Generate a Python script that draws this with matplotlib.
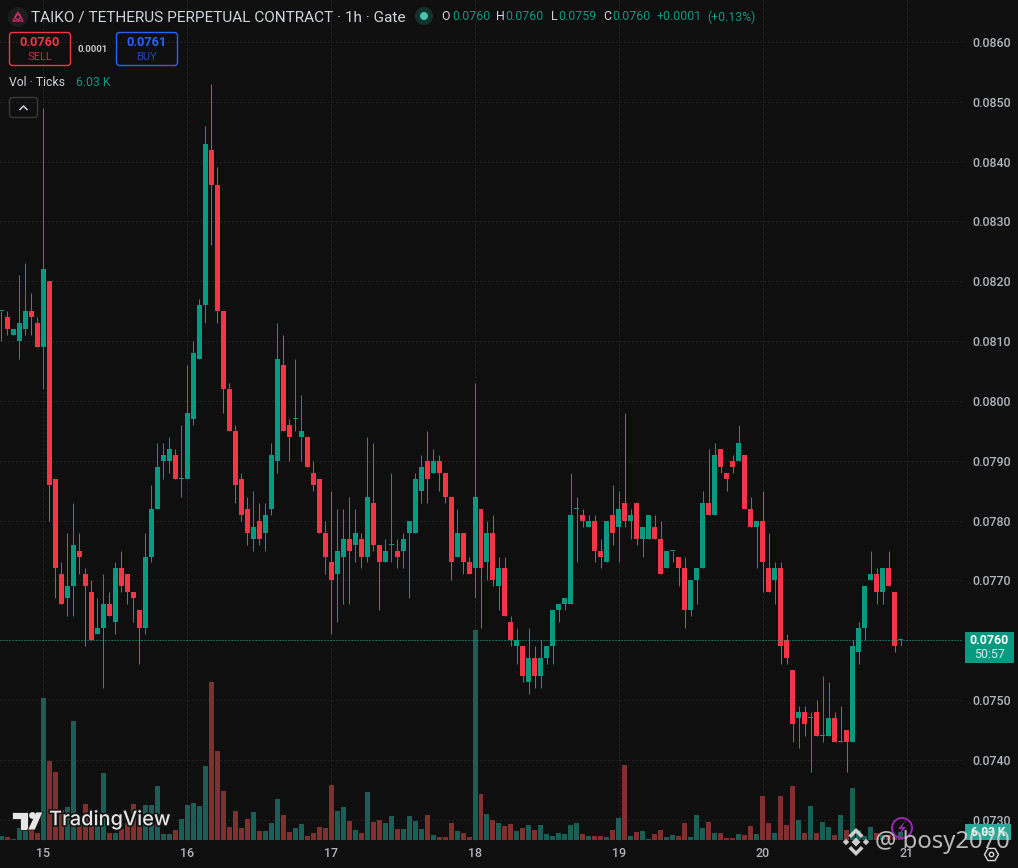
import numpy as np
import matplotlib
matplotlib.use("Agg")
import matplotlib.pyplot as plt
from matplotlib.patches import Polygon, Circle, FancyBboxPatch, Rectangle
import matplotlib.patheffects as pe

plt.rcParams['font.family'] = ['Roboto', 'DejaVu Sans']

# prices in units of 0.0001, hourly, first candle is 7 hours before day 15
first_hour = -7
opens = [815,814,811,810,812,815,813,
809,820,787,771,767,769,775,771,768,761,
762,766,763,772,771,768,765,762,774,782,
790,790,791,787,787,797,807,816,842,836,
815,802,795,787,782,777,780,778,782,790,
806,796,797,794,794,788,787,778,773,771,
774,777,776,777,774,783,776,773,776,775,
775,778,778,785,790,788,790,788,784,774,
778,773,772,782,773,778,769,772,763,759,
759,753,757,754,757,759,765,766,766,782,
781,779,780,775,773,781,779,783,780,783,
777,777,779,777,772,775,774,772,765,770,
772,783,781,792,788,790,790,791,782,779,
780,772,770,772,760,755,747,748,747,748,
744,744,747,743,745,743,758,762,770,771,
768,772,768,760]
highs = [815,815,812,821,823,818,814,
849,820,787,773,778,783,778,772,770,767,
771,768,773,775,771,768,765,778,786,793,
793,794,792,796,806,810,817,846,853,839,
815,803,796,788,784,785,783,783,793,813,
811,797,807,801,794,790,787,780,785,782,
782,784,782,778,794,793,776,777,788,777,
778,780,788,791,795,792,791,788,784,782,
778,774,803,782,780,781,774,774,764,762,
759,762,759,760,759,765,766,767,788,784,
782,781,781,777,780,786,785,798,782,783,
779,781,781,780,775,775,774,774,770,772,
785,792,793,792,788,791,796,791,784,780,
785,778,773,773,761,755,749,749,748,750,
754,753,748,749,745,760,763,769,775,772,
772,775,768,760]
lows = [810,811,811,807,811,811,809,
802,780,767,766,764,764,771,759,760,761,
752,764,761,768,766,763,756,761,773,782,
787,788,787,784,787,796,807,813,826,813,
798,795,783,780,776,775,776,775,781,788,
795,790,795,790,789,785,778,771,761,763,
766,766,773,772,773,775,765,773,773,772,
772,767,778,783,783,788,785,783,770,774,
771,771,767,762,770,769,765,764,759,756,
753,751,752,752,756,756,763,765,766,773,
779,779,773,772,773,776,773,779,777,776,
774,777,777,771,772,773,769,762,764,766,
772,781,781,788,785,788,790,782,779,772,
768,768,766,756,756,743,742,744,738,744,
743,744,743,743,738,743,756,760,770,766,
766,769,758,759]
closes = [815,812,812,813,815,814,809,
822,786,772,766,769,776,774,769,760,762,
766,764,772,769,768,767,762,774,782,789,
791,792,787,787,798,808,816,843,836,815,
802,795,786,781,778,779,777,781,791,807,
795,794,797,795,789,786,778,774,770,775,
777,775,778,774,784,776,773,775,776,774,
777,780,787,789,787,790,788,784,773,778,
773,771,784,772,778,770,772,764,760,760,
754,757,754,757,759,765,766,767,781,782,
780,780,775,774,780,778,782,780,781,777,
779,781,777,771,775,775,772,765,770,772,
783,781,791,789,787,789,793,782,779,780,
773,768,772,759,757,746,748,746,747,744,
744,747,743,743,743,759,762,769,771,768,
772,769,759,760]
# volume in thousands of ticks
volumes = [3,2.25,.75,9,6.75,9,5.25,
106.5,59.25,51,22.5,24.75,89.25,17.5,27,20,17.5,
50.25,5.25,5.25,8.25,12.5,27,15,26.25,26.25,40.5,
4.5,4.5,7.5,15.75,26.25,27.75,25.5,55.5,118.5,66.75,
36.75,9.75,21.75,9,15.75,21,6.75,6.75,12.75,30.75,
18.75,6,9,12,3,5.25,9.75,9,41.25,21.75,
24.75,14.25,7.5,5.25,36,13.5,15,12.75,18,8.25,
8.25,18,14.25,8.25,18.75,3.75,2.25,2.25,12.75,6.75,
5.25,2.25,157.5,34.5,19.5,15,12.75,10.5,12,6.75,
9,11.25,7.5,11.25,4.5,3,5.25,4.5,11.25,12.75,
4.5,3,3,3,2.25,7.5,16.5,56.25,3,6,
6.75,.75,4.5,7.5,2.25,3.75,3,12.75,2.25,18.75,
9,13.5,5.25,5.25,1.5,1.5,4.5,3.75,10.5,4.5,
33,12.75,5.25,33,11.25,40.5,15,5.25,25.5,5.25,
13.5,9.75,3.75,18.75,7.5,39,7.5,3,9.75,5.25,
3.75,3.75,2.25,6.03]
last_price = 0.0760
day_labels = ['15', '16', '17', '18', '19', '20', '21']
day_hours = [0, 24, 48, 72, 96, 120, 144]
price_ticks = [0.0730 + 0.001 * i for i in range(14)]

BG = '#0f0f0f'
GREEN = '#089981'
RED = '#f23645'
VGREEN = '#1b5e55'
VRED = '#80302f'
GRID = '#333333'
TXT = '#b2b5be'

W, H = 1018, 868
PANE_R, PANE_B = 962, 841
fig = plt.figure(figsize=(W / 100, H / 100), dpi=100, facecolor=BG)
rect = [0, (H - PANE_B) / H, PANE_R / W, PANE_B / H]

O = np.array(opens) / 1e4
C = np.array(closes) / 1e4
Hi = np.array(highs) / 1e4
Lo = np.array(lows) / 1e4
V = np.array(volumes)
t = np.arange(len(O)) + first_hour
up = C >= O

xlim = (-7.17, 153.17)
ylim = (0.076 - 200.7 / 59850, 0.076 + 640.3 / 59850)

ax = fig.add_axes(rect, facecolor=BG, zorder=1)
ax.set_xlim(xlim)
ax.set_ylim(ylim)
for s in ax.spines.values():
    s.set_visible(False)
ax.yaxis.tick_right()
ax.set_yticks(price_ticks)
# the 0.0760 scale label sits under the last-price tag, so the tag carries it
ax.set_yticklabels(['' if abs(p - last_price) < 1e-6 else f'{p:.4f}' for p in price_ticks])
ax.set_xticks(day_hours)
ax.set_xticklabels(day_labels)
ax.tick_params(axis='y', length=0, pad=7.4, labelsize=8.9, labelcolor=TXT)
ax.tick_params(axis='x', length=0, pad=4.6, labelsize=8.9, labelcolor=TXT)
for lab in ax.get_yticklabels() + ax.get_xticklabels():
    lab.set_fontweight('medium')
ax.grid(True, color=GRID, lw=0.72, linestyle=(0, (1, 3)))
ax.set_axisbelow(True)

# candles
wicks_col = [GREEN if u else RED for u in up]
wc = ax.vlines(t, Lo, Hi, colors=wicks_col, lw=0.72, zorder=3)
wc.set_snap(True)
body_h = np.maximum(np.abs(C - O), 1 / 59850)
ax.bar(t, body_h, bottom=np.minimum(O, C), width=5 / 6,
       color=wicks_col, linewidth=0, zorder=4)

# volume pane overlay sharing the time axis
vol = fig.add_axes(rect, zorder=2)
vol.patch.set_alpha(0)
vol.set_xlim(xlim)
vol.set_ylim(-0.75, 840 * 0.75)
vol.axis('off')
vol.bar(t, V, width=5 / 6, color=[VGREEN if u else VRED for u in up], linewidth=0)
vol.plot([0, 1], [last_price, last_price], transform=ax.get_yaxis_transform(),
         color='#0fae94', lw=0.72, linestyle=(0, (1, 2)), scalex=False, scaley=False)

# chrome in pixel coordinates
ov = fig.add_axes([0, 0, 1, 1], zorder=5)
ov.patch.set_alpha(0)
ov.set_xlim(0, W)
ov.set_ylim(H, 0)
ov.axis('off')


def T(x, y, s, color=TXT, size=8.8, weight='normal', ha='left', va='center', **kw):
    return ov.text(x, y, s, color=color, fontsize=size, fontweight=weight, ha=ha, va=va, **kw)


def box(x0, y0, x1, y1, ec, fc='none', r=3, lw=1.0):
    ov.add_patch(FancyBboxPatch((x0 + r, y0 + r), x1 - x0 - 2 * r, y1 - y0 - 2 * r,
                                boxstyle=f'round,pad={r},rounding_size={r}',
                                ec=ec, fc=fc, lw=lw, mutation_aspect=1))


# header
ov.add_patch(Circle((18, 17), 10, fc='#1c1c1f', ec='none'))
ov.add_patch(Polygon([(18, 12), (23, 21), (13, 21)], closed=True, fc='none', ec='#c2275f', lw=1.1))
ov.add_patch(Circle((18, 17), 2.4, fc='none', ec='#e0356f', lw=0.8))
T(31, 17, 'TAIKO / TETHERUS PERPETUAL CONTRACT · 1h · Gate', color='#d1d4dc', size=11.1)
ov.add_patch(Circle((424, 16), 9, fc='#12332e', ec='none'))
ov.add_patch(Circle((424, 16), 4, fc='#45c2a8', ec='none'))
for x, s in [(441, 'O'), (496, 'H'), (551, 'L'), (603, 'C')]:
    T(x, 17, s, color='#d1d4dc', size=8.9)
for x, s in [(452, '0.0760'), (505.5, '0.0760'), (558, '0.0759'), (612, '0.0760'),
             (657, '+0.0001'), (707, '(+0.13%)')]:
    T(x, 17, s, color=GREEN, size=8.9)

# buy / sell
box(9.5, 32.5, 70.5, 65.5, RED)
T(40, 42, '0.0760', color=RED, size=9.2, weight='bold', ha='center')
T(40, 56.5, 'SELL', color='#c9303f', size=8.0, ha='center')
box(116.5, 32.5, 177.5, 65.5, '#2962ff')
T(147, 42, '0.0761', color='#2962ff', size=9.2, weight='bold', ha='center')
T(147, 56.5, 'BUY', color='#2148c0', size=8.0, ha='center')
T(93, 49, '0.0001', color='#c8c8c8', size=6.8, weight='bold', ha='center')

# volume legend and collapse button
T(9, 82.5, 'Vol · Ticks', color='#d1d4dc', size=8.8)
T(76, 82.5, '6.03 K', color=GREEN, size=8.8)
box(9.5, 97.5, 37.5, 117.5, '#3a3a3a')
ov.plot([20, 23.5, 27], [109.5, 106, 109.5], color='#d1d4dc', lw=1.1)

# last-value tags
ov.add_patch(Rectangle((965, 632), 49, 31, fc=GREEN, ec='none'))
T(989.5, 640.5, '0.0760', color='white', size=8.9, weight='bold', ha='center')
T(989.5, 654.5, '50:57', color='#d5eee9', size=8.9, ha='center')
ov.add_patch(Rectangle((965, 824), 46, 16, fc='#2aa796', ec='none'))
T(988, 832.5, '6.03 K', color='white', size=8.6, weight='bold', ha='center')

# TradingView logo
halo = [pe.withStroke(linewidth=2.5, foreground='#161616')]
logo_col = '#e6e6e6'
for poly in ([(12, 812), (28, 812), (28, 830), (20, 830), (20, 819), (12, 819)],
             [(36, 812), (43, 812), (35, 830), (27.5, 830)]):
    ov.add_patch(Polygon(poly, closed=True, fc=logo_col, ec='#161616', lw=0.6))
ov.add_patch(Circle((32.5, 815.5), 3.4, fc=logo_col, ec='none'))
T(49, 820, 'TradingView', color=logo_col, size=14.4, weight='medium',
  family='Inter', path_effects=halo)

# purple badge and hexagon
ov.add_patch(Circle((902, 828), 10, fc='none', ec='#9c27b0', lw=1.4))
ov.add_patch(Polygon([(906, 820), (898, 829), (902, 829), (898, 836), (906, 827), (902, 827)],
                     closed=True, fc='#9c27b0', ec='none'))
hex_a = np.deg2rad(np.arange(0, 360, 60))
ov.add_patch(Polygon(np.c_[991.5 + 7 * np.cos(hex_a), 854.5 + 7 * np.sin(hex_a)], closed=True,
                     fc='none', ec='#d8d8d8', lw=1.0))
ov.add_patch(Circle((991.5, 854.5), 2.2, fc='none', ec='#d8d8d8', lw=1.0))

# Binance watermark
wm = '#d8d8d8'
cx, cy = 856, 842


def dia(x, y, r):
    return [(x, y - r), (x + r, y), (x, y + r), (x - r, y)]


for poly in (dia(cx, cy, 4.5), dia(cx - 10, cy, 3.2), dia(cx + 10, cy, 3.2),
             [(cx, cy - 14), (cx + 7.5, cy - 6.5), (cx + 5, cy - 4), (cx, cy - 9), (cx - 5, cy - 4), (cx - 7.5, cy - 6.5)],
             [(cx, cy + 14), (cx + 7.5, cy + 6.5), (cx + 5, cy + 4), (cx, cy + 9), (cx - 5, cy + 4), (cx - 7.5, cy + 6.5)]):
    ov.add_patch(Polygon(poly, closed=True, fc=wm, ec='none', alpha=0.95))
T(875, 842.5, '@ bosy2070', color=wm, size=17.2, family='Noto Sans', alpha=0.85)

fig.savefig('out.png', dpi=100, facecolor=BG)
